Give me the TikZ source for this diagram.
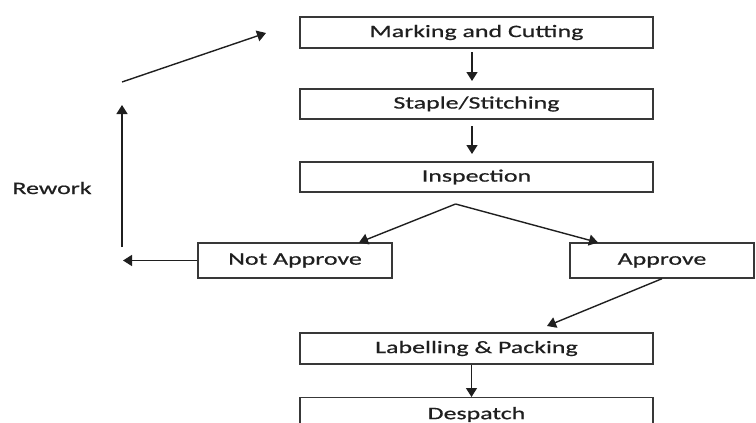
\documentclass[tikz,border=0pt]{standalone}
\usepackage{fontspec}
\setmainfont{Carlito}[FakeStretch=1.48,FakeBold=0.6]
\usetikzlibrary{arrows.meta}
\begin{document}
\begin{tikzpicture}[x=1pt,y=-1pt,
  box/.style={draw=black!78,line width=1.4pt,fill=white,inner sep=0pt,
    font=\fontsize{17.5}{20}\selectfont,text=black!88},
  conn/.style={draw=black!88,line width=1.4pt,-{Triangle[length=9pt,width=11pt]}},
  lbl/.style={font=\fontsize{17.5}{20}\selectfont,text=black!88}]
\useasboundingbox (0,0) rectangle (756,423);
\node[box,minimum width=353pt,minimum height=31pt] (mc) at (476.5,32.5) {Marking and Cutting};
\node[box,minimum width=353pt,minimum height=30pt] (ss) at (476.5,104) {Staple/Stitching};
\node[box,minimum width=353pt,minimum height=30pt] (in) at (476.5,177) {Inspection};
\node[box,minimum width=194pt,minimum height=35pt] (na) at (295,260.5) {Not Approve};
\node[box,minimum width=184pt,minimum height=35pt] (ap) at (662,260.5) {Approve};
\node[box,minimum width=353pt,minimum height=31pt] (lp) at (476.5,348.5) {Labelling \& Packing};
\node[box,minimum width=353pt,minimum height=33pt,anchor=north] (de) at (476.5,397) {};
\node[lbl] at (476.5,414.5) {Despatch};
\node[lbl] (rw) at (52,188) {Rework};
\coordinate (apex) at (455.6,204);
\coordinate (na1) at (359,242.5);
\coordinate (ap1) at (598,242.5);
\coordinate (lp1) at (547,326);
\coordinate (rl) at (123,260.5);
\coordinate (vb) at (122,247);
\coordinate (vt) at (122,105);
\coordinate (db) at (122,82);
\coordinate (dt) at (266,33);
\draw[conn] (472,52) -- (472,81);
\draw[conn] (472,126) -- (472,154);
\draw[conn] (apex) -- (na1);
\draw[conn] (apex) -- (ap1);
\draw[conn] (ap.south) -- (lp1);
\draw[conn] (na.west) -- (rl);
\draw[conn] (vb) -- (vt);
\draw[conn] (db) -- (dt);
\draw[conn] (lp.south -| 471.5,0) -- (de.north -| 471.5,0);
\end{tikzpicture}
\end{document}
